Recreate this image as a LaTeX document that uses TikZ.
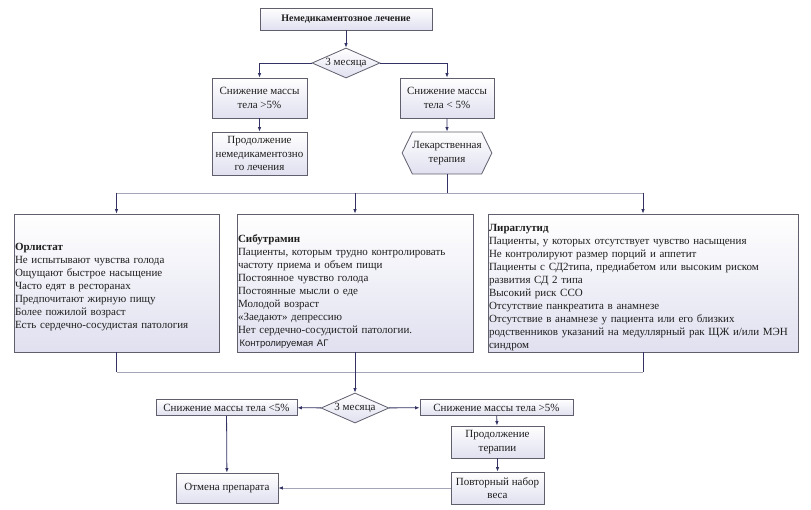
\documentclass[tikz,border=0pt]{standalone}
\usepackage{fontspec}
\setmainfont{Liberation Serif}
\newfontfamily\sansf{Liberation Sans}
\usetikzlibrary{arrows.meta,shapes.geometric,shapes.symbols}
\definecolor{navy}{RGB}{50,50,100}
\definecolor{bord}{RGB}{95,95,110}
\definecolor{lav}{RGB}{224,224,240}
\definecolor{busc}{RGB}{165,165,185}
\definecolor{txt}{RGB}{30,30,30}
\begin{document}
\begin{tikzpicture}[x=1pt,y=-1pt,
  box/.style={draw=bord, line width=0.8pt, top color=white, bottom color=lav,
    inner sep=1pt, align=center, text=txt, font=\fontsize{11}{13.5}\selectfont},
  bigbox/.style={box, align=left, font=\fontsize{11}{13}\selectfont},
  dia/.style={diamond, aspect=2.4, draw=bord, line width=0.8pt, top color=white,
    bottom color=lav, inner sep=0pt, minimum width=68pt, minimum height=30pt,
    text=txt, font=\fontsize{11}{13}\selectfont},
  hexa/.style={signal, signal to=west and east, signal pointer angle=128,
    draw=bord, line width=0.8pt, top color=white, bottom color=lav, inner sep=0pt,
    minimum width=86pt, minimum height=42pt, align=center, text=txt,
    font=\fontsize{11}{13.5}\selectfont},
  arr/.style={draw=navy, line width=0.8pt, -{Latex[length=4.5pt,width=3.5pt]}},
  ln/.style={draw=navy, line width=0.8pt},
  bus/.style={draw=busc, line width=0.8pt},
  garr/.style={draw=busc, line width=0.8pt, -{Latex[length=4.5pt,width=3.5pt,color=navy]}}
]
\useasboundingbox (0,0) rectangle (811,510);
\fill[white] (0,0) rectangle (811,510);

% top part
\node[box, minimum width=172pt, minimum height=22pt, font=\bfseries\fontsize{10}{12}\selectfont] (top) at (346,19) {Немедикаментозное лечение};
\node[dia] (d1) at (346,63) {3 месяца};
\node[box, minimum width=95pt, minimum height=40pt] (b1) at (259.5,98) {Снижение массы\\тела >5\%};
\node[box, minimum width=94pt, minimum height=40pt] (b2) at (447,98) {Снижение массы\\тела < 5\%};
\node[box, minimum width=95pt, minimum height=43pt] (b3) at (259.5,153.5) {Продолжение\\немедикаментозно\\го лечения};
\node[hexa] (hex) at (447,153) {Лекарственная\\терапия};

\draw[arr] (top) -- (d1);
\draw[arr] (d1.west) -| (b1.north);
\draw[arr] (d1.east) -| (b2.north);
\draw[arr] (b1) -- (b3);
\draw[arr] (b2) -- (hex);

% three drug boxes
\node[bigbox, minimum width=205pt, minimum height=138pt, text width=203pt] (orl) at (116.5,283) {\rule{0pt}{16pt}\textbf{Орлистат}\\
Не испытывают чувства голода\\
Ощущают быстрое насыщение\\
Часто едят в ресторанах\\
Предпочитают жирную пищу\\
Более пожилой возраст\\
Есть сердечно-сосудистая патология};
\node[bigbox, minimum width=236pt, minimum height=138pt, text width=234pt] (sib) at (355,283) {\rule{0pt}{24pt}\textbf{Сибутрамин}\\
Пациенты, которым трудно контролировать\\
частоту приема и объем пищи\\
Постоянное чувство голода\\
Постоянные мысли о еде\\
Молодой возраст\\
«Заедают» депрессию\\
Нет сердечно-сосудистой патологии.\\
{\sansf\fontsize{9.5}{13}\selectfont\,Контролируемая АГ}};
\node[bigbox, minimum width=310pt, minimum height=138pt, text width=308pt] (lir) at (643,283) {\rule{0pt}{16pt}\textbf{Лираглутид}\\
Пациенты, у которых отсутствует чувство насыщения\\
Не контролируют размер порций и аппетит\\
Пациенты с СД2типа, предиабетом или высоким риском\\
развития СД 2 типа\\
Высокий риск ССО\\
Отсутствие панкреатита в анамнезе\\
Отсутствие в анамнезе у пациента или его близких\\
родственников указаний на медуллярный рак ЩЖ и/или МЭН\\
синдром};

\coordinate (busL) at (orl.north |- 0,193);
\coordinate (busR) at (lir.north |- 0,193);
\coordinate (busH) at (hex.south |- 0,193);
\draw[ln] (hex.south) -- (busH);
\draw[bus] (busL) -- (busR);
\draw[arr] (busL) -- (orl.north);
\draw[arr] (sib.north |- 0,193) -- (sib.north);
\draw[arr] (busR) -- (lir.north);

% bottom part
\node[dia] (d2) at (355,408) {3 месяца};
\node[box, minimum width=141pt, minimum height=16pt, inner sep=0pt] (bl) at (226.5,407.5) {Снижение массы тела <5\%};
\node[box, minimum width=153pt, minimum height=16pt, inner sep=0pt] (br) at (496.5,407.5) {Снижение массы тела >5\%};
\node[box, minimum width=93pt, minimum height=32pt] (pt) at (497.5,442) {Продолжение\\терапии};
\node[box, minimum width=93pt, minimum height=32pt] (pn) at (497.5,488) {Повторный набор\\веса};
\node[box, minimum width=102pt, minimum height=30pt] (ot) at (227,488) {Отмена препарата};

\coordinate (bbL) at (orl.south |- 0,372);
\coordinate (bbR) at (lir.south |- 0,372);
\draw[ln] (orl.south) -- (bbL);
\draw[ln] (lir.south) -- (bbR);
\draw[bus] (bbL) -- (bbR);
\draw[arr] (sib.south) -- (d2.north);
\draw[arr] (d2) -- (bl);
\draw[arr] (d2) -- (br);
\draw[arr] (br) -- (pt);
\draw[arr] (pt) -- (pn);
\draw[arr] (bl) -- (ot);
\draw[garr] (pn) -- (ot);
\end{tikzpicture}
\end{document}
